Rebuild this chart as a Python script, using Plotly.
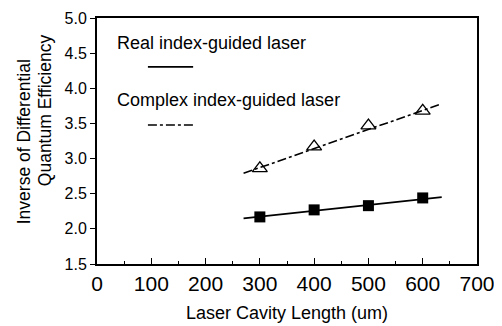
import plotly.graph_objects as go

cavity_length = [300, 400, 500, 600]
real_eff = [2.17, 2.27, 2.33, 2.44]
complex_eff = [2.86, 3.17, 3.47, 3.68]
fit_x = [270, 635]
real_fit = [2.15, 2.45]
complex_fit = [2.79, 3.78]
x_ticks = [0, 100, 200, 300, 400, 500, 600, 700]
y_ticks = [1.5, 2.0, 2.5, 3.0, 3.5, 4.0, 4.5, 5.0]

FONT = "Liberation Sans, Arial, sans-serif"

fig = go.Figure()
fig.add_trace(go.Scatter(x=fit_x, y=real_fit, mode="lines",
                         line=dict(color="black", width=1.8), showlegend=False))
fig.add_trace(go.Scatter(x=fit_x, y=complex_fit, mode="lines",
                         line=dict(color="black", width=1.6, dash="dashdot"), showlegend=False))
fig.add_trace(go.Scatter(x=cavity_length, y=real_eff, mode="markers",
                         marker=dict(symbol="square", size=11, color="black"), showlegend=False))
fig.add_trace(go.Scatter(x=cavity_length, y=complex_eff, mode="markers",
                         marker=dict(symbol="triangle-up-open", size=13, color="black",
                                     line=dict(width=1.3)), showlegend=False))

# Legend drawn as text + sample lines
fig.add_annotation(x=0.047, y=0.9, xref="paper", yref="paper", text="Real index-guided laser",
                   showarrow=False, xanchor="left", yanchor="middle",
                   font=dict(family=FONT, size=18, color="black"))
fig.add_annotation(x=0.047, y=0.665, xref="paper", yref="paper", text="Complex index-guided laser",
                   showarrow=False, xanchor="left", yanchor="middle",
                   font=dict(family=FONT, size=18, color="black"))
fig.add_shape(type="line", xref="paper", yref="paper", x0=0.134, x1=0.253, y0=0.801, y1=0.801,
              line=dict(color="black", width=1.8))
fig.add_shape(type="line", xref="paper", yref="paper", x0=0.134, x1=0.253, y0=0.565, y1=0.565,
              line=dict(color="black", width=1.6, dash="dashdot"))

# Y-axis title as two rotated lines (wider line spacing than plotly's default)
fig.add_annotation(x=-0.192, y=0.495, xref="paper", yref="paper", text="Inverse of Differential",
                   showarrow=False, textangle=-90, xanchor="center", yanchor="middle",
                   font=dict(family=FONT, size=17.5, color="black"))
fig.add_annotation(x=-0.137, y=0.625, xref="paper", yref="paper", text="Quantum Efficiency",
                   showarrow=False, textangle=-90, xanchor="center", yanchor="middle",
                   font=dict(family=FONT, size=17.5, color="black"))

fig.update_xaxes(range=[0, 700], tickvals=x_ticks, ticktext=[str(v) for v in x_ticks],
                 ticks="inside", ticklen=6, tickwidth=1, tickcolor="black",
                 minor=dict(dtick=50, ticks="inside", ticklen=3, tickcolor="black"),
                 showline=True, linecolor="black", linewidth=2, mirror=True,
                 showgrid=False, zeroline=False, automargin=False,
                 tickfont=dict(family=FONT, size=21, color="black"),
                 title=dict(text="Laser Cavity Length (um)", standoff=12,
                            font=dict(family=FONT, size=18, color="black")))
fig.update_yaxes(range=[1.5, 5.0], tickvals=y_ticks, ticktext=[f"{v:.1f}" for v in y_ticks],
                 ticks="outside", ticklen=5, tickwidth=1, tickcolor="black",
                 showline=True, linecolor="black", linewidth=2, mirror=True,
                 showgrid=False, zeroline=False, automargin=False,
                 tickfont=dict(family=FONT, size=16, color="black"))

# Page body has an 8px margin, so the figure is sized/offset to compensate
fig.update_layout(width=494, height=318, margin=dict(l=89, r=25, t=10, b=62),
                  plot_bgcolor="white", paper_bgcolor="white", showlegend=False)

fig.write_html("out.html")
